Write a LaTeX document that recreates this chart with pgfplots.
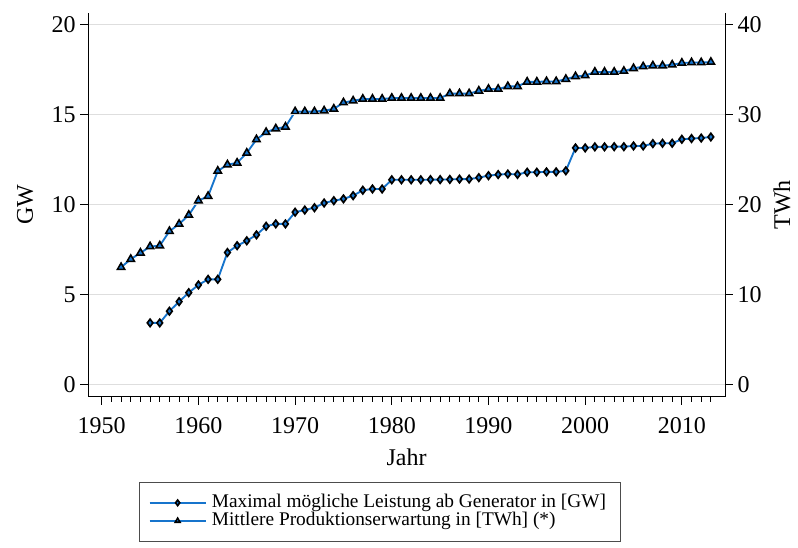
\documentclass[border=0pt]{standalone}
\usepackage{fontspec}
\setmainfont{Liberation Serif}
\usepackage{pgfplots}
\pgfplotsset{compat=1.18}
\definecolor{sline}{RGB}{22,116,204}
\definecolor{gridc}{RGB}{222,222,222}
\pgfplotsset{
  common/.style={
    scale only axis, width=477.5pt, height=288pt,
    at={(66.23pt,113.48pt)}, anchor=south west,
    xmin=1948.61, xmax=2014.46,
    tick align=outside,
    major tick length=6pt, minor tick length=3.75pt,
    /pgf/number format/assume math mode=true,
    tick label style={font=\fontsize{18}{18}\selectfont},
    label style={font=\fontsize{18}{18}\selectfont},
    axis line style={black, line width=0.6pt},
    every tick/.style={black, line width=0.6pt},
  },
  gwstyle/.style={sline, line width=1.4pt, mark=diamond*, mark size=2.8pt,
    mark options={draw=black, fill=sline, line width=1.25pt, solid}},
  twhstyle/.style={sline, line width=1.4pt, mark=triangle*, mark size=3.2pt,
    mark options={draw=black, fill=sline, line width=1.15pt, solid}},
}
\begin{document}
\begin{tikzpicture}
\path[use as bounding box] (0,0) rectangle (598.5pt,411pt);
\begin{axis}[common,
  axis x line*=bottom, axis y line*=right,
  ymin=-1.378, ymax=41.289,
  ytick={0,10,20,30,40},
  xtick=\empty,
  ylabel={TWh},
  ylabel style={at={(axis description cs:1.0895,0.5)}, anchor=center},
]
\addplot[twhstyle] coordinates {
(1952,13.0)(1953,13.9)(1954,14.6)(1955,15.3)(1956,15.4)(1957,17.0)
(1958,17.8)(1959,18.8)(1960,20.4)(1961,20.9)(1962,23.7)(1963,24.4)
(1964,24.6)(1965,25.7)(1966,27.2)(1967,28.0)(1968,28.4)(1969,28.6)
(1970,30.3)(1971,30.3)(1972,30.3)(1973,30.4)(1974,30.6)(1975,31.3)
(1976,31.5)(1977,31.7)(1978,31.7)(1979,31.7)(1980,31.8)(1981,31.8)
(1982,31.8)(1983,31.8)(1984,31.8)(1985,31.8)(1986,32.3)(1987,32.3)
(1988,32.3)(1989,32.6)(1990,32.8)(1991,32.8)(1992,33.1)(1993,33.1)
(1994,33.6)(1995,33.6)(1996,33.65)(1997,33.65)(1998,33.9)(1999,34.2)
(2000,34.3)(2001,34.7)(2002,34.7)(2003,34.7)(2004,34.8)(2005,35.1)
(2006,35.3)(2007,35.4)(2008,35.4)(2009,35.5)(2010,35.7)(2011,35.75)
(2012,35.75)(2013,35.8)
};
\end{axis}
\begin{axis}[common,
  axis x line*=bottom, axis y line*=left,
  ymin=-0.689, ymax=20.644,
  ytick={0,5,10,15,20},
  xtick={1950,1960,...,2010},
  minor xtick={1950,...,2013},
  /pgf/number format/1000 sep={},
  xticklabel style={yshift=-6pt},
  ymajorgrids, grid style={gridc, line width=1.1pt},
  xlabel={Jahr}, ylabel={GW},
  xlabel style={at={(axis description cs:0.5,-0.157)}, anchor=center},
  ylabel style={at={(axis description cs:-0.0994,0.5)}, anchor=center},
  legend cell align=left,
  legend image code/.code={\draw[#1,mark size=2.1pt,mark repeat=2,mark phase=2] plot coordinates {(0pt,0pt) (21pt,0pt) (42pt,0pt)};},
  legend style={at={(axis description cs:0.0796,-0.2214)}, anchor=north west,
    draw=black!70, line width=0.6pt, fill=white,
    inner xsep=7pt, inner ysep=8.8pt, row sep=0pt,
    font=\fontsize{14.5}{14.5}\selectfont,
    nodes={inner ysep=0pt, inner xsep=4pt, text height=10pt, text depth=3.5pt}},
]
\addplot[gwstyle] coordinates {
(1955,3.41)(1956,3.41)(1957,4.06)(1958,4.59)(1959,5.09)(1960,5.52)
(1961,5.83)(1962,5.83)(1963,7.32)(1964,7.70)(1965,7.97)(1966,8.30)
(1967,8.78)(1968,8.91)(1969,8.91)(1970,9.56)(1971,9.68)(1972,9.81)
(1973,10.07)(1974,10.20)(1975,10.30)(1976,10.48)(1977,10.78)(1978,10.85)
(1979,10.85)(1980,11.36)(1981,11.36)(1982,11.36)(1983,11.36)(1984,11.37)
(1985,11.37)(1986,11.38)(1987,11.40)(1988,11.40)(1989,11.48)(1990,11.59)
(1991,11.65)(1992,11.68)(1993,11.66)(1994,11.78)(1995,11.78)(1996,11.80)
(1997,11.80)(1998,11.86)(1999,13.13)(2000,13.13)(2001,13.19)(2002,13.19)
(2003,13.20)(2004,13.20)(2005,13.24)(2006,13.24)(2007,13.37)(2008,13.39)
(2009,13.39)(2010,13.61)(2011,13.65)(2012,13.68)(2013,13.74)
};
\addlegendentry{Maximal mögliche Leistung ab Generator in [GW]}
\addlegendimage{twhstyle}
\addlegendentry{Mittlere Produktionserwartung in [TWh] (*)}
\end{axis}
\end{tikzpicture}
\end{document}
